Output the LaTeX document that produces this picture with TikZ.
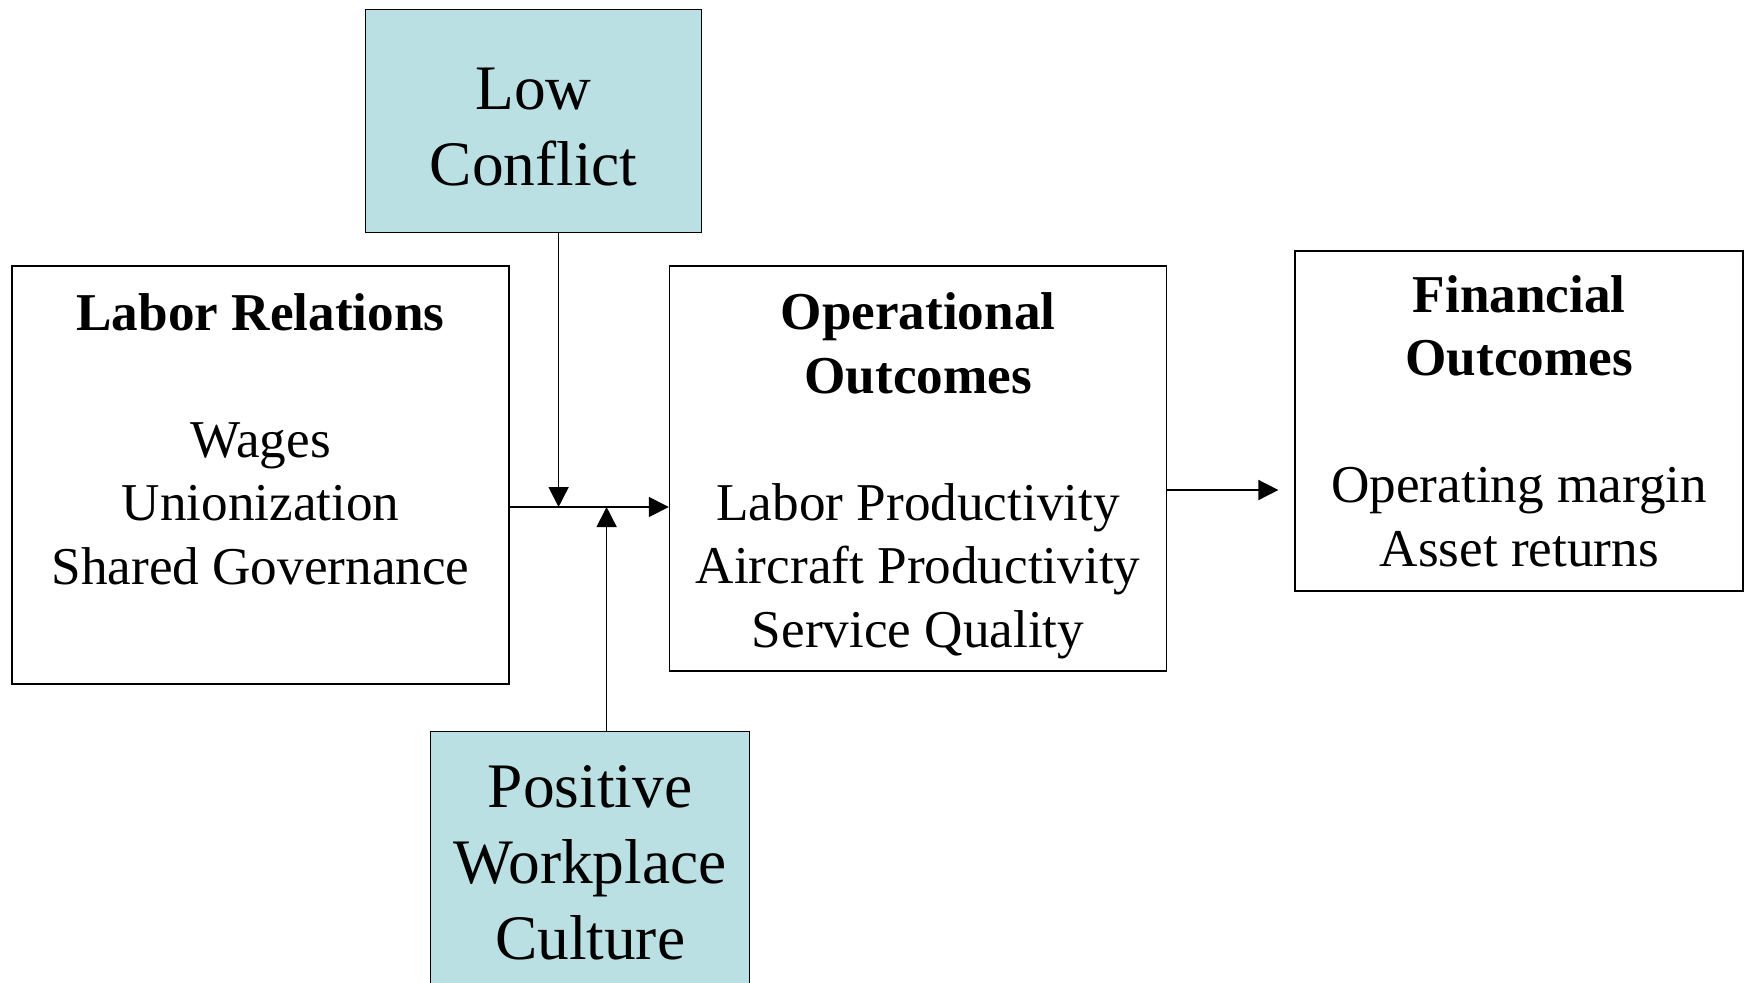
\documentclass[tikz,border=0pt]{standalone}
\usepackage{fontspec}
\setmainfont{Liberation Serif}
\usepackage{tikz}
\usetikzlibrary{positioning,arrows.meta}
\definecolor{paleblue}{RGB}{187,224,227}
\tikzstyle{arrow} = [line width=0.8pt, -{Triangle[length=10pt,width=10pt]}]

\begin{document}
\begin{tikzpicture}[
			block/.style={
					rectangle,
					draw=black,
					line width=0.8pt,
					align=center,
					inner sep=0pt,
					font=\fontsize{26.6}{31.8}\selectfont,
				},
			factor/.style={
					block,
					fill=paleblue,
					font=\fontsize{31.7}{37.9}\selectfont,
				}
		]
		\useasboundingbox (0,0) rectangle (873pt,-491pt);

		% Labor Relations box
		\node[block, minimum width=248.5pt, minimum height=209pt] (labor) at (130.25pt,-237.5pt) {
			\textbf{Labor Relations}\\[31.8pt]
			Wages\\
			Unionization\\
			Shared Governance\\[4.4pt]
			\mbox{}
		};

		% Operational Outcomes box
		\node[block, minimum width=248.5pt, minimum height=202.5pt,
			right=79.5pt of labor.north east, anchor=north west] (ops) {
			\rule{0pt}{25.8pt}\textbf{Operational}\\
			\textbf{Outcomes}\\[31.8pt]
			Labor Productivity\\
			Aircraft Productivity\\
			Service Quality
		};

		% Financial Outcomes box
		\node[block, minimum width=224pt, minimum height=170pt,
			right=63.5pt of ops.north east, anchor=north west, yshift=7.5pt] (fin) {
			\textbf{Financial}\\
			\textbf{Outcomes}\\[31.8pt]
			Operating margin\\
			Asset returns
		};

		% Low Conflict box
		\node[factor, minimum width=168pt, minimum height=111.5pt,
			above right=16pt and -72.5pt of labor.north east, anchor=south west] (low) {
			\rule{0pt}{26.6pt}Low\\
			Conflict
		};

		% Positive Workplace Culture box
		\node[factor, minimum width=159.5pt, minimum height=131pt,
			below right=23pt and -40pt of labor.south east, anchor=north west] (culture) {
			Positive\\
			Workplace\\
			Culture
		};

		% Connections
		\coordinate (join) at ([yshift=-16pt]labor.east);
		\coordinate (opsout) at ([yshift=-10.75pt]ops.east);
		\coordinate (finin) at ([xshift=-8pt]fin.west);
		\draw[arrow] (join) -- (join -| ops.west);
		\draw[arrow] ([xshift=12.5pt]low.south) -- ([xshift=12.5pt]low.south |- join);
		\draw[arrow] ([xshift=8.25pt]culture.north) -- ([xshift=8.25pt]culture.north |- join);
		\draw[arrow] (opsout) -- (opsout -| finin);
	\end{tikzpicture}
\end{document}
